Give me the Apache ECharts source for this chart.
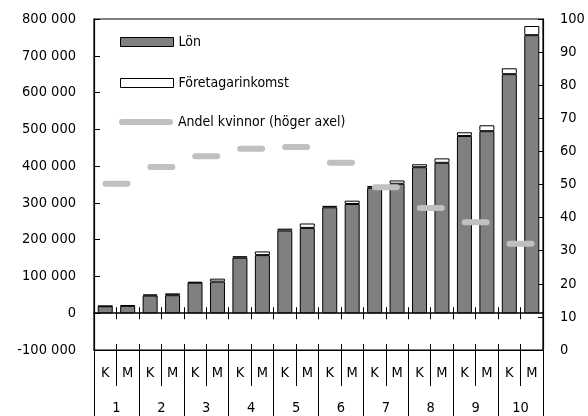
<!DOCTYPE html>
<html>
<head>
<meta charset="utf-8">
<script src="https://cdn.jsdelivr.net/npm/echarts@6/dist/echarts.min.js"></script>
<style>html,body{margin:0;padding:0;background:#fff;}#c{width:588px;height:416px;}</style>
</head>
<body>
<div id="c"></div>
<script>
var categories = ['K','M','K','M','K','M','K','M','K','M','K','M','K','M','K','M','K','M','K','M'];
var groups = ['1','2','3','4','5','6','7','8','9','10'];
var lon = [19000, 20000, 48000, 49000, 83000, 86000, 151000, 158000, 225000, 232000, 288000, 297000, 341000, 352000, 397000, 409000, 482000, 495000, 650000, 756000];
var foretagarinkomst = [1000, 2000, 3000, 5000, 2000, 8000, 4000, 10000, 5000, 12000, 4000, 9000, 5000, 9000, 8000, 12000, 10000, 16000, 16000, 25000];
var andelKvinnor = [50.2, 55.3, 58.5, 60.8, 61.3, 56.6, 49.2, 42.9, 38.6, 32.1];
var leftTicks = {min: -100000, max: 800000, interval: 100000};
var rightTicks = {min: 0, max: 100, interval: 10};

var FONT = '"DejaVu Sans Condensed", "Liberation Sans Narrow", "Roboto Condensed", "Liberation Sans", sans-serif';
var FS = 14.5;
var LFS = 14;
var dashPath = 'path://M3,0 H25 A3,3 0 0 1 25,6 H3 A3,3 0 0 1 3,0 Z';
var legendDashPath = 'path://M3,0 H51 A3,3 0 0 1 51,6 H3 A3,3 0 0 1 3,0 Z';

function fmtThousands(v) {
  var neg = v < 0; var s = String(Math.abs(v));
  s = s.replace(/\B(?=(\d{3})+(?!\d))/g, ' ');
  return (neg ? '-' : '') + s;
}

var chart = echarts.init(document.getElementById('c'), null, {renderer: 'canvas'});
var textStyle = {fontFamily: FONT, fontSize: FS, color: '#000'};
var legendText = {fontFamily: FONT, fontSize: LFS, color: '#000'};

var option = {
  animation: false,
  textStyle: textStyle,
  grid: {left: 94, right: 45, top: 19, bottom: 66, show: true, borderColor: '#000', borderWidth: 1.2, backgroundColor: 'transparent'},
  legend: [
    {left: 120, top: 35, padding: 0, itemWidth: 53, itemHeight: 9, textStyle: legendText,
     data: [{name: 'Lön', icon: 'rect', itemStyle: {color: '#808080', borderColor: '#000', borderWidth: 1}}]},
    {left: 120, top: 76, padding: 0, itemWidth: 53, itemHeight: 9, textStyle: legendText,
     data: [{name: 'Företagarinkomst', icon: 'rect', itemStyle: {color: '#fff', borderColor: '#000', borderWidth: 1}}]},
    {left: 119, top: 115, padding: 0, itemWidth: 54, itemHeight: 6, textStyle: legendText,
     data: [{name: 'Andel kvinnor (höger axel)', icon: legendDashPath, itemStyle: {color: '#c0c0c0', borderWidth: 0}}]}
  ],
  xAxis: [
    {type: 'category', data: categories, position: 'bottom', axisLine: {onZero: false, lineStyle: {color: '#000', width: 1.2}},
     axisTick: {show: true, interval: 0, length: 36, lineStyle: {color: '#000'}},
     axisLabel: {interval: 0, margin: 16, fontFamily: FONT, fontSize: FS, color: '#000'}, splitLine: {show: false}},
    {type: 'category', data: groups, position: 'bottom', axisLine: {show: false, onZero: false},
     axisTick: {show: true, interval: 0, length: 66, lineStyle: {color: '#000'}},
     axisLabel: {interval: 0, margin: 51, fontFamily: FONT, fontSize: FS, color: '#000'}, splitLine: {show: false}},
    {type: 'category', data: categories, position: 'bottom', axisLine: {show: true, onZero: true, onZeroAxisIndex: 0, lineStyle: {color: '#000', width: 1.5}},
     axisTick: {show: true, interval: 0, length: 6, lineStyle: {color: '#000'}},
     axisLabel: {show: false}, splitLine: {show: false}},
    {type: 'category', data: categories, position: 'bottom', axisLine: {show: false, onZero: true, onZeroAxisIndex: 0},
     axisTick: {show: true, inside: true, interval: 0, length: 6, lineStyle: {color: '#000'}},
     axisLabel: {show: false}, splitLine: {show: false}},
    {type: 'category', data: categories, position: 'bottom', axisLine: {show: false, onZero: false},
     axisTick: {show: true, inside: true, interval: 0, length: 6, lineStyle: {color: '#000'}},
     axisLabel: {show: false}, splitLine: {show: false}}
  ],
  yAxis: [
    {type: 'value', position: 'left', min: leftTicks.min, max: leftTicks.max, interval: leftTicks.interval,
     axisLine: {show: true, lineStyle: {color: '#000', width: 1.2}},
     axisTick: {show: true, inside: true, length: 6, lineStyle: {color: '#000'}},
     axisLabel: {margin: 18, fontFamily: FONT, fontSize: FS, color: '#000', formatter: fmtThousands},
     splitLine: {show: false}},
    {type: 'value', position: 'right', min: rightTicks.min, max: rightTicks.max, interval: rightTicks.interval,
     axisLine: {show: true, lineStyle: {color: '#000', width: 1.2}},
     axisTick: {show: true, inside: true, length: 5, lineStyle: {color: '#000'}},
     axisLabel: {margin: 17, fontFamily: FONT, fontSize: FS, color: '#000'},
     splitLine: {show: false}}
  ],
  series: [
    {name: 'Lön', type: 'bar', stack: 'inc', xAxisIndex: 0, yAxisIndex: 0, data: lon, barWidth: 15,
     itemStyle: {color: '#808080', borderColor: '#000', borderWidth: 1}},
    {name: 'Företagarinkomst', type: 'bar', stack: 'inc', xAxisIndex: 0, yAxisIndex: 0, data: foretagarinkomst, barWidth: 15,
     itemStyle: {color: '#fff', borderColor: '#000', borderWidth: 1}},
    {name: 'Andel kvinnor (höger axel)', type: 'scatter', xAxisIndex: 1, yAxisIndex: 1, data: andelKvinnor,
     symbol: dashPath, symbolSize: [28, 6], itemStyle: {color: '#c0c0c0', opacity: 1}, z: 5}
  ]
};
chart.setOption(option);
</script>
</body>
</html>
